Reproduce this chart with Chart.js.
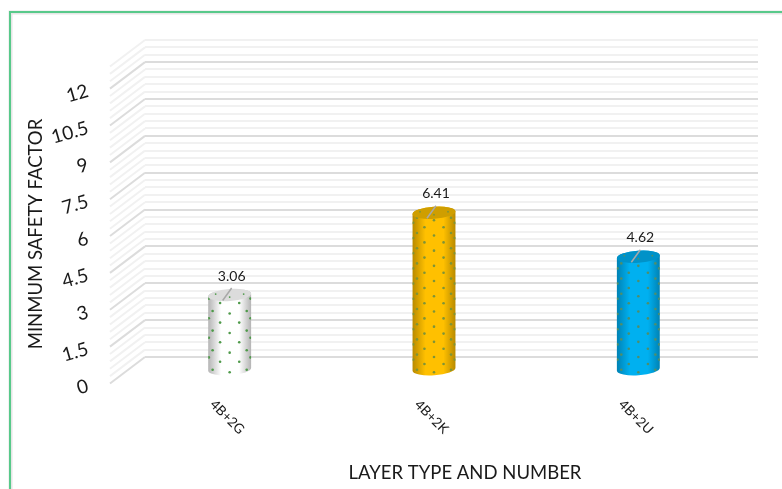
<!DOCTYPE html>
<html>
<head>
<meta charset="utf-8">
<style>
  html, body { margin: 0; padding: 0; background: #fff; }
  canvas { display: block; }
</style>
<script src="https://cdn.jsdelivr.net/npm/chart.js@4"></script>
</head>
<body>
<canvas id="chart" width="782" height="489"></canvas>
<script>
// Values
const categories = ['4B+2G', '4B+2K', '4B+2U'];
const safetyFactors = [3.06, 6.41, 4.62];
const valueLabels = ['3.06', '6.41', '4.62'];
const yAxisTitle = 'MINMUM SAFETY FACTOR';
const xAxisTitle = 'LAYER TYPE AND NUMBER';

// Look of each cylinder
const bodyColors = ['#ffffff', '#ffc000', '#00b0f0'];
const edgeColors = ['#b4b4b4', '#b88a00', '#0082b4'];
const capColors = ['#dcdcdc', '#cf9e00', '#0092c8'];
const dotColors = ['#4f9a4a', '#7d9438', '#4f8f6a'];
const dotPitch = [19.6, 15.2, 15.2];

const FONT = 'Lato, "Open Sans", sans-serif';
const DEPTH_X = -35, DEPTH_Y = 26.5;      // floor depth of the 3D box
const MID_X = DEPTH_X / 2, MID_Y = DEPTH_Y / 2;
const RADIUS = 21.5, CAP_RY = 6, TILT = -0.07;

const isMajor = v => Math.round(v / 0.3) % 5 === 0;

function drawCylinder(ctx, cx, top, base, i) {
  ctx.save();
  // Body with a rounded left-to-right shading
  const g = ctx.createLinearGradient(cx - RADIUS, 0, cx + RADIUS, 0);
  g.addColorStop(0, edgeColors[i]);
  g.addColorStop(0.3, bodyColors[i]);
  g.addColorStop(0.72, bodyColors[i]);
  g.addColorStop(1, edgeColors[i]);
  ctx.beginPath();
  ctx.ellipse(cx, base, RADIUS, CAP_RY, TILT, 0, Math.PI);
  ctx.ellipse(cx, top, RADIUS, CAP_RY, TILT, Math.PI, 0);
  ctx.closePath();
  ctx.fillStyle = g;
  ctx.fill();

  // Dot pattern wrapped around the curved surface
  ctx.clip();
  ctx.fillStyle = dotColors[i];
  const pitch = dotPitch[i];
  for (let k = -3; k <= 3; k++) {
    const theta = k * 27 * Math.PI / 180;
    const x = cx + RADIUS * Math.sin(theta) * 0.98;
    const curve = CAP_RY * Math.cos(theta);
    const phase = (k & 1) ? pitch / 2 : 0;
    for (let y = base + curve - 3 - phase; y > top + curve - 1; y -= pitch) {
      ctx.beginPath();
      ctx.arc(x, y, 1.3, 0, Math.PI * 2);
      ctx.fill();
    }
  }
  ctx.restore();

  // Top cap with the same dots
  ctx.save();
  ctx.beginPath();
  ctx.ellipse(cx, top, RADIUS, CAP_RY, TILT, 0, Math.PI * 2);
  ctx.fillStyle = capColors[i];
  ctx.fill();
  ctx.clip();
  ctx.fillStyle = dotColors[i];
  for (let d = -14; d <= 14; d += 14) {
    ctx.beginPath();
    ctx.arc(cx + d, top + (d === 0 ? 2 : -1), 0.9, 0, Math.PI * 2);
    ctx.fill();
  }
  ctx.restore();

  // Leader from the value label to the cap
  ctx.beginPath();
  ctx.moveTo(cx + 2, top - 7);
  ctx.lineTo(cx - 7, top + 5.5);
  ctx.strokeStyle = '#a8a8a8';
  ctx.lineWidth = 1.5;
  ctx.stroke();
}

const box3d = {
  id: 'box3d',
  beforeDraw(chart) {
    const ctx = chart.ctx;
    // Green frame, open to the right and bottom, with its soft shadow
    ctx.save();
    ctx.strokeStyle = '#e6e6e6';
    ctx.lineWidth = 4;
    ctx.beginPath();
    ctx.moveTo(10.5, 489); ctx.lineTo(10.5, 12.5); ctx.lineTo(782, 12.5);
    ctx.stroke();
    ctx.strokeStyle = '#58c98a';
    ctx.lineWidth = 2;
    ctx.beginPath();
    ctx.moveTo(10, 489); ctx.lineTo(10, 12); ctx.lineTo(782, 12);
    ctx.stroke();
    ctx.restore();
  },
  beforeDatasetsDraw(chart) {
    const ctx = chart.ctx, y = chart.scales.y, left = chart.chartArea.left;
    // Side wall of the box: one slanted line per gridline
    ctx.save();
    ctx.lineWidth = 2;
    y.ticks.forEach(t => {
      const py = y.getPixelForValue(t.value);
      ctx.strokeStyle = isMajor(t.value) ? '#dcdcdc' : '#f1f1f1';
      ctx.beginPath();
      ctx.moveTo(left, py);
      ctx.lineTo(left + DEPTH_X, py + DEPTH_Y);
      ctx.stroke();
    });
    ctx.restore();
  },
  beforeDatasetDraw(chart, args) {
    // Cylinders replace the flat bars, placed mid-depth inside the box
    const ctx = chart.ctx;
    args.meta.data.forEach((bar, i) => {
      drawCylinder(ctx, bar.x + MID_X, bar.y + MID_Y, bar.base + MID_Y, i);
    });
    return false;
  },
  afterDatasetsDraw(chart) {
    const ctx = chart.ctx, yS = chart.scales.y, xS = chart.scales.x;
    ctx.save();
    ctx.fillStyle = '#1a1a1a';
    ctx.textBaseline = 'middle';

    // Value labels
    ctx.textAlign = 'center';
    ctx.font = '14px ' + FONT;
    chart.getDatasetMeta(0).data.forEach((bar, i) => {
      ctx.fillText(valueLabels[i], bar.x + MID_X + 2, bar.y + MID_Y - 19);
    });

    // Slanted value-axis labels on the front edge of the box
    ctx.font = '19px ' + FONT;
    ctx.textAlign = 'right';
    yS.ticks.forEach(t => {
      if (!t.label) return;
      ctx.save();
      ctx.translate(88, yS.getPixelForValue(t.value) + 28.5);
      ctx.rotate(-16 * Math.PI / 180);
      ctx.fillText(t.label, 0, 0);
      ctx.restore();
    });

    // Category labels, turned 45 degrees clockwise
    ctx.font = '13.5px ' + FONT;
    ctx.textAlign = 'center';
    categories.forEach((c, i) => {
      ctx.save();
      ctx.translate(xS.getPixelForValue(i) + MID_X - 2.5, 417);
      ctx.rotate(45 * Math.PI / 180);
      ctx.fillText(c, 0, 0);
      ctx.restore();
    });

    // Axis titles
    ctx.font = '18.5px ' + FONT;
    ctx.fillText(xAxisTitle, 465, 473);
    ctx.save();
    ctx.translate(36, 234);
    ctx.rotate(-Math.PI / 2);
    ctx.fillText(yAxisTitle, 0, 0);
    ctx.restore();
    ctx.restore();
  }
};

new Chart(document.getElementById('chart'), {
  type: 'bar',
  data: {
    labels: categories,
    datasets: [{
      label: 'Minimum safety factor',
      data: safetyFactors,
      backgroundColor: bodyColors,
      barThickness: 43
    }]
  },
  options: {
    responsive: false,
    animation: false,
    events: [],
    layout: { padding: { left: 145, right: 24, top: 40, bottom: 124 } },
    plugins: { legend: { display: false }, tooltip: { enabled: false } },
    scales: {
      x: {
        grid: { display: false },
        border: { display: false },
        ticks: { display: false }
      },
      y: {
        min: 0,
        max: 12.9,
        border: { display: false },
        grid: {
          drawTicks: false,
          lineWidth: 2,
          color: c => isMajor(c.tick.value) ? '#dcdcdc' : '#f1f1f1'
        },
        ticks: {
          display: false,
          stepSize: 0.3,
          autoSkip: false,
          callback: v => (isMajor(v) && v <= 12.01) ? String(+v.toFixed(1)) : ''
        }
      }
    }
  },
  plugins: [box3d]
});
</script>
</body>
</html>
